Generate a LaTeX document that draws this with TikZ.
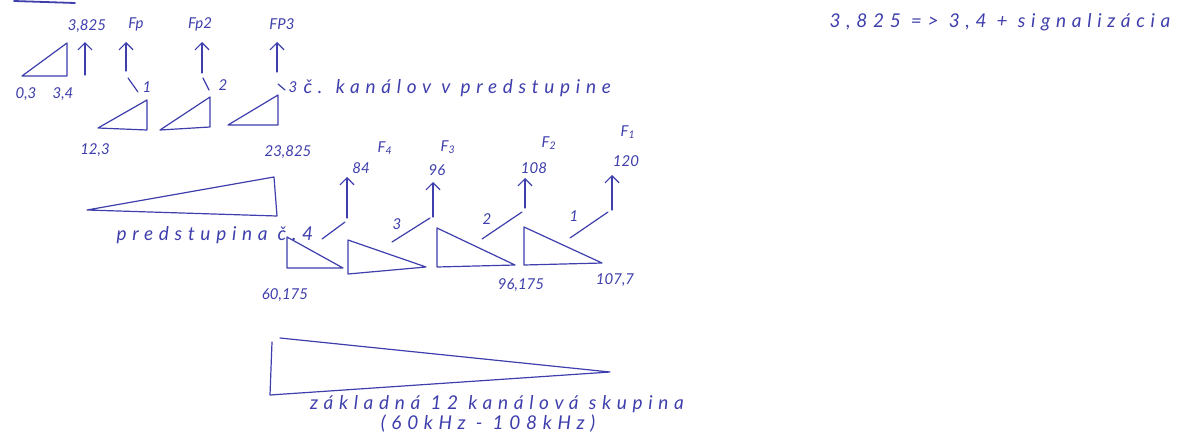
\documentclass[tikz,border=0pt]{standalone}
\usepackage{fontspec}
\newfontfamily\hand{Lato}
\newfontfamily\handwide{Lato}[LetterSpace=30]
\usetikzlibrary{arrows.meta}
\definecolor{ink}{RGB}{62,62,172}

\begin{document}
\begin{tikzpicture}[x=1pt, y=-1pt, line width=1.2pt, draw=ink, line cap=round, line join=round,
  lbl/.style={font=\hand\itshape\fontsize{15}{17}\selectfont, text=ink, inner sep=0pt},
  txt/.style={font=\handwide\itshape\fontsize{19}{21}\selectfont, text=ink, inner sep=0pt},
  up/.style={-{Straight Barb[length=7pt,width=14pt]}}]
\useasboundingbox (0,0) rectangle (1177,442);

% cut-off stroke at the top
\draw[line width=1.8pt] (14,1) -- (75,3);

% signal band 0,3 - 3,4
\draw (22,76) -- (67,43) -- (67,76) -- cycle;
\node[lbl] (l03) at (26,94) {0,3};
\node[lbl] (l34) at (63,94) {3,4};

% carriers of the predstupina
\coordinate (b3825) at (85,75);  \coordinate (t3825) at (85,42);
\coordinate (bFp1) at (126,71);  \coordinate (tFp1) at (126,42);
\coordinate (bFp2) at (202,73);  \coordinate (tFp2) at (202,42);
\coordinate (bFp3) at (277,72);  \coordinate (tFp3) at (277,42);
\draw[up] (b3825) -- (t3825);
\draw[up] (bFp1) -- (tFp1);
\draw[up] (bFp2) -- (tFp2);
\draw[up] (bFp3) -- (tFp3);
\node[lbl] (f3825) at (87,26) {3,825};
\node[lbl] (fp1) at (136,24) {Fp};
\node[lbl] (fp2) at (200,24) {Fp2};
\node[lbl] (fp3) at (282,24) {FP3};

% channels 1, 2, 3
\draw (98,128) -- (147,100) -- (147,130) -- cycle;
\draw (160,130) -- (210,97) -- (210,127) -- cycle;
\draw (228,125) -- (278,95) -- (278,125) -- cycle;
\draw (128,78) -- (138,92);
\draw (203,78) -- (209,90);
\draw (278,84) -- (285,90);
\node[lbl] (k1) at (147,87) {1};
\node[lbl] (k2) at (223,85) {2};
\node[lbl] (k3) at (293,87) {3};
\node[txt, anchor=west] (kanalov) at (303,88) {č. kanálov v predstupine};
\node[lbl] (l123) at (95,150) {12,3};
\node[lbl] (l23825) at (288,152) {23,825};

% predstupina 4
\draw (87,210) -- (274,177) -- (277,216) -- cycle;
\node[txt, anchor=west] (pred4) at (116,235) {predstupina č.4};

% predstupiny 4, 3, 2, 1 in the group
\draw (287,237) -- (287,268) -- (343,268) -- cycle;
\draw (348,240) -- (348,274) -- (426,267) -- cycle;
\draw (437,228) -- (437,267) -- (515,265) -- cycle;
\draw (524,227) -- (524,265) -- (602,263) -- cycle;

\coordinate (bF4) at (347,218);  \coordinate (tF4) at (347,177);
\coordinate (bF3) at (433,217);  \coordinate (tF3) at (433,182);
\coordinate (bF2) at (525,208);  \coordinate (tF2) at (525,178);
\coordinate (bF1) at (612,210);  \coordinate (tF1) at (612,175);
\draw[up] (bF4) -- (tF4);
\draw[up] (bF3) -- (tF3);
\draw[up] (bF2) -- (tF2);
\draw[up] (bF1) -- (tF1);
\draw (322,239) -- (345,222);
\draw (392,242) -- (430,218);
\draw (482,239) -- (522,212);
\draw (570,238) -- (608,212);

\node[lbl] (n84) at (361,168) {84};
\node[lbl] (n96) at (437,170) {96};
\node[lbl] (n108) at (534,168) {108};
\node[lbl] (n120) at (626,161) {120};
\node[lbl] (nF4) at (385,148) {F\textsubscript{4}};
\node[lbl] (nF3) at (448,147) {F\textsubscript{3}};
\node[lbl] (nF2) at (549,143) {F\textsubscript{2}};
\node[lbl] (nF1) at (628,132) {F\textsubscript{1}};
\node[lbl] (m3) at (397,224) {3};
\node[lbl] (m2) at (487,219) {2};
\node[lbl] (m1) at (574,216) {1};
\node[lbl] (l60175) at (285,295) {60,175};
\node[lbl] (l96175) at (521,285) {96,175};
\node[lbl] (l1077) at (615,280) {107,7};

% zakladna skupina
\draw (280,338) -- (610,372) -- (270,395) -- (272,342);
\node[txt] (zakl) at (497,404) {základná 12 kanálová skupina};
\node[txt] (pasmo) at (488,424) {(60kHz - 108kHz)};

% note
\node[txt] (note) at (1000,22) {3,825 => 3,4 + signalizácia};
\end{tikzpicture}
\end{document}
